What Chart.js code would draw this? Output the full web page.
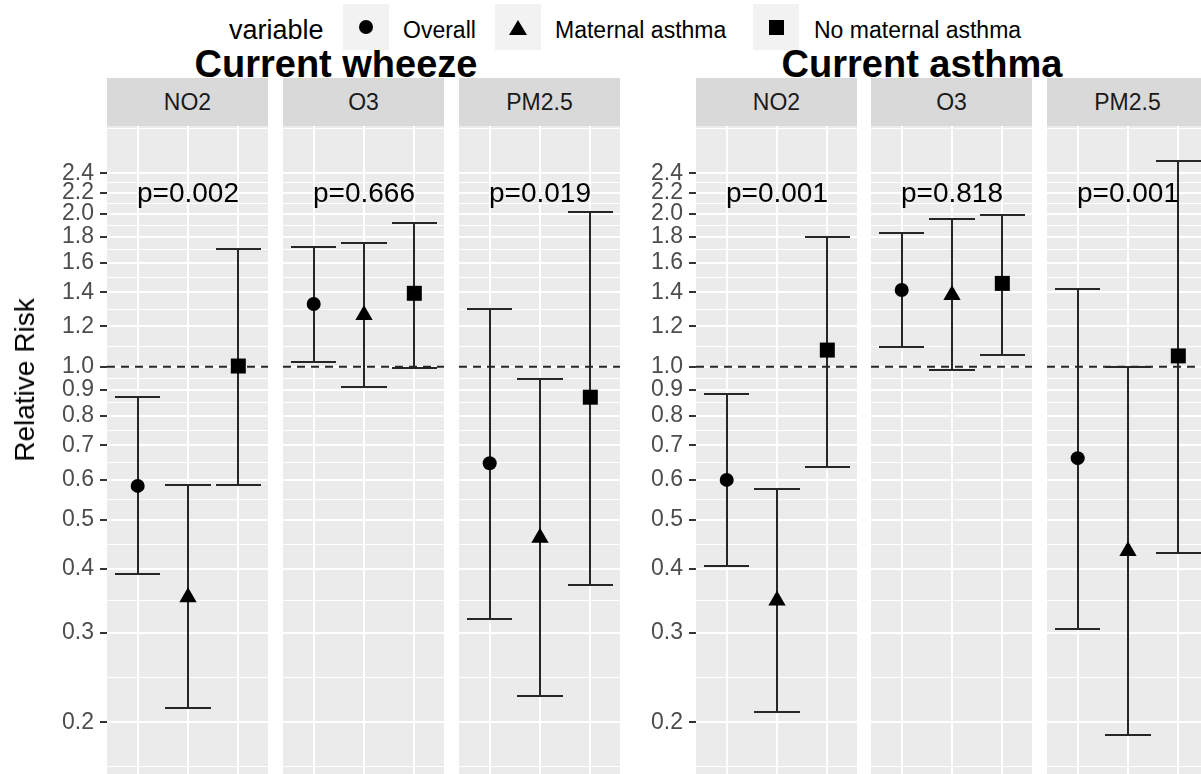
<!DOCTYPE html>
<html>
<head>
<meta charset="utf-8">
<title>Relative Risk by pollutant</title>
<script src="https://cdn.jsdelivr.net/npm/chart.js@4.4.1/dist/chart.umd.min.js"></script>
<style>
  html, body { margin: 0; padding: 0; background: #fff; }
  body { position: relative; width: 1201px; height: 774px; overflow: hidden; font-family: "Liberation Sans", Arial, sans-serif; }
  .abs { position: absolute; white-space: nowrap; line-height: 1; }
  .plot-title { font-size: 38px; font-weight: bold; color: #000; width: 600px; text-align: center; }
  .strip { position: absolute; background: #D9D9D9; color: #1A1A1A; font-size: 23px; text-align: center; height: 48px; line-height: 48px; }
  .key { position: absolute; top: 4px; width: 46px; height: 46px; background: #F2F2F2; display: flex; align-items: center; justify-content: center; }
  .sym-circle { width: 14px; height: 14px; border-radius: 50%; background: #000; }
  .sym-triangle { width: 0; height: 0; border-left: 9px solid transparent; border-right: 9px solid transparent; border-bottom: 15px solid #000; }
  .sym-rect { width: 15px; height: 15px; background: #000; }
  canvas { position: absolute; }
</style>
</head>
<body>
<script>
// categories
const OUTCOMES = ['Current wheeze', 'Current asthma'];
const POLLUTANTS = ['NO2', 'O3', 'PM2.5'];
const GROUPS = ['Overall', 'Maternal asthma', 'No maternal asthma'];
const GROUP_X = [1, 2, 3];
const GROUP_SHAPES = ['circle', 'triangle', 'rect'];

// y axis (log scale)
const Y_TICKS = [0.2, 0.3, 0.4, 0.5, 0.6, 0.7, 0.8, 0.9, 1.0, 1.2, 1.4, 1.6, 1.8, 2.0, 2.2, 2.4];
const REF_RR = 1;

// Current wheeze - rows NO2 / O3 / PM2.5, columns = groups
const WHEEZE_RR = [[0.583, 0.352, 1.003], [1.328, 1.264, 1.394], [0.646, 0.461, 0.871]];
const WHEEZE_LO = [[0.391, 0.213, 0.586], [1.02, 0.913, 0.993], [0.319, 0.225, 0.373]];
const WHEEZE_HI = [[0.873, 0.586, 1.70], [1.72, 1.75, 1.92], [1.30, 0.947, 2.01]];
const WHEEZE_P = ['p=0.002', 'p=0.666', 'p=0.019'];

// Current asthma
const ASTHMA_RR = [[0.599, 0.347, 1.078], [1.415, 1.384, 1.458], [0.661, 0.434, 1.05]];
const ASTHMA_LO = [[0.405, 0.209, 0.636], [1.095, 0.985, 1.056], [0.305, 0.189, 0.431]];
const ASTHMA_HI = [[0.882, 0.575, 1.80], [1.83, 1.95, 1.99], [1.42, 1.0, 2.54]];
const ASTHMA_P = ['p=0.001', 'p=0.818', 'p=0.001'];

const P_LABEL_X = 2;
const P_LABEL_Y = 2.18;

// layout
const X_MIN = 0.39, X_MAX = 3.59;
const Y_MIN = 0.1582, Y_MAX = 2.973;
const PANEL_TOP = 126, PANEL_BOTTOM = 774, PANEL_W = 161, AXIS_W = 70;
const STRIP_TOP = 78;
const FACET_LEFTS = [[107, 283, 459], [696, 871, 1047]];
const TITLE_CX = [336, 922];
const POINT_R = [7, 10, 10.6];
const CAP_HALF = 0.45;
const FONT = '"Liberation Sans", Arial, sans-serif';

// minor grid lines halfway (in log space) between the breaks, one extra at each end
function minorBreaks(br) {
  const out = [];
  const step = Math.log10(br[1]) - Math.log10(br[0]);
  const ext = [Math.pow(10, Math.log10(br[0]) - step), ...br, Math.pow(10, Math.log10(br[br.length - 1]) + step)];
  for (let i = 0; i < ext.length - 1; i++) out.push(Math.sqrt(ext[i] * ext[i + 1]));
  return out;
}
const GRID_VALUES = [...Y_TICKS, ...minorBreaks(Y_TICKS)].filter(v => v > Y_MIN && v < Y_MAX).sort((a, b) => a - b);

const panelPlugin = {
  id: 'panel',
  beforeDraw(chart) {
    const { ctx, chartArea: a } = chart;
    ctx.save();
    ctx.fillStyle = '#EBEBEB';
    ctx.fillRect(a.left, a.top, a.right - a.left, a.bottom - a.top);
    ctx.restore();
  },
  beforeDatasetsDraw(chart, args, opts) {
    const { ctx, scales: { x, y } } = chart;
    ctx.save();
    ctx.strokeStyle = '#262626';
    ctx.lineWidth = 2;
    GROUP_X.forEach((gx, i) => {
      // snap to whole pixels so the 2px lines stay sharp
      const xc = Math.round(x.getPixelForValue(gx));
      const xl = Math.round(x.getPixelForValue(gx - CAP_HALF));
      const xr = Math.round(x.getPixelForValue(gx + CAP_HALF));
      const yl = Math.round(y.getPixelForValue(opts.lo[i]));
      const yh = Math.round(y.getPixelForValue(opts.hi[i]));
      ctx.beginPath();
      ctx.moveTo(xc, yl); ctx.lineTo(xc, yh);
      ctx.moveTo(xl, yl); ctx.lineTo(xr, yl);
      ctx.moveTo(xl, yh); ctx.lineTo(xr, yh);
      ctx.stroke();
    });
    ctx.restore();
  },
  afterDatasetsDraw(chart, args, opts) {
    const { ctx, scales: { x, y } } = chart;
    ctx.save();
    ctx.fillStyle = '#000';
    ctx.font = '28px ' + FONT;
    ctx.textAlign = 'center';
    ctx.textBaseline = 'middle';
    ctx.fillText(opts.label, x.getPixelForValue(P_LABEL_X), y.getPixelForValue(P_LABEL_Y));
    ctx.restore();
  }
};

function addText(cls, text, style) {
  const d = document.createElement('div');
  d.className = cls;
  d.textContent = text;
  Object.assign(d.style, style);
  document.body.appendChild(d);
  return d;
}

function makePanel(f, k, rr, lo, hi, pText) {
  const hasAxis = k === 0;
  const left = FACET_LEFTS[f][k];
  const canvas = document.createElement('canvas');
  const w = PANEL_W + (hasAxis ? AXIS_W : 0);
  canvas.width = w;
  canvas.height = PANEL_BOTTOM - PANEL_TOP;
  canvas.style.left = (left - (hasAxis ? AXIS_W : 0)) + 'px';
  canvas.style.top = PANEL_TOP + 'px';
  document.body.appendChild(canvas);

  addText('strip', POLLUTANTS[k], { left: left + 'px', top: STRIP_TOP + 'px', width: PANEL_W + 'px' });

  return new Chart(canvas, {
    type: 'scatter',
    data: {
      datasets: [
        ...GROUPS.map((g, i) => ({
          label: g,
          data: [{ x: GROUP_X[i], y: rr[i] }],
          pointStyle: GROUP_SHAPES[i],
          pointRadius: POINT_R[i],
          pointHoverRadius: POINT_R[i],
          backgroundColor: '#000',
          borderColor: '#000',
          borderWidth: 0
        })),
        {
          type: 'line',
          label: 'reference',
          data: [{ x: X_MIN, y: REF_RR }, { x: X_MAX, y: REF_RR }],
          showLine: true,
          borderColor: '#262626',
          borderWidth: 2,
          borderDash: [8, 6],
          pointRadius: 0,
          fill: false
        }
      ]
    },
    options: {
      responsive: false,
      animation: false,
      events: [],
      layout: { padding: 0, autoPadding: false },
      plugins: {
        legend: { display: false },
        tooltip: { enabled: false },
        panel: { lo, hi, label: pText }
      },
      scales: {
        x: {
          type: 'linear', min: X_MIN, max: X_MAX,
          ticks: { display: false },
          border: { display: false },
          grid: { color: '#fff', lineWidth: 2, drawTicks: false },
          afterBuildTicks: s => { s.ticks = GROUP_X.map(v => ({ value: v })); },
          afterFit: s => { s.height = 0; s.paddingLeft = 0; s.paddingRight = 0; }
        },
        y: {
          type: 'logarithmic', min: Y_MIN, max: Y_MAX,
          border: { display: false },
          ticks: {
            display: hasAxis, autoSkip: false, padding: 6, color: '#4D4D4D',
            font: { family: FONT, size: 23 },
            callback: v => Y_TICKS.includes(v) ? v.toFixed(1) : ''
          },
          grid: {
            color: '#fff',
            lineWidth: c => (c.tick && Y_TICKS.includes(c.tick.value)) ? 2 : 1,
            drawTicks: hasAxis, tickLength: 7, tickWidth: 2,
            tickColor: c => (c.tick && Y_TICKS.includes(c.tick.value)) ? '#333' : 'rgba(0,0,0,0)'
          },
          afterBuildTicks: s => { s.ticks = GRID_VALUES.map(v => ({ value: v })); },
          afterFit: s => { s.width = hasAxis ? AXIS_W : 0; s.paddingTop = 0; s.paddingBottom = 0; }
        }
      }
    },
    plugins: [panelPlugin]
  });
}

const SERIES = [
  { rr: WHEEZE_RR, lo: WHEEZE_LO, hi: WHEEZE_HI, p: WHEEZE_P },
  { rr: ASTHMA_RR, lo: ASTHMA_LO, hi: ASTHMA_HI, p: ASTHMA_P }
];

SERIES.forEach((s, f) => {
  POLLUTANTS.forEach((_, k) => makePanel(f, k, s.rr[k], s.lo[k], s.hi[k], s.p[k]));
  addText('abs plot-title', OUTCOMES[f], { left: (TITLE_CX[f] - 300) + 'px', top: '45px' });
});

// y axis title
addText('abs', 'Relative Risk', {
  left: '25px', top: '380px', fontSize: '28px', color: '#000',
  transform: 'translate(-50%, -50%) rotate(-90deg)'
});

// legend
const KEY_LEFT = [343, 495, 753];
const LABEL_LEFT = [403, 555, 814];
addText('abs', 'variable', { left: '229px', top: '17px', fontSize: '27px', color: '#000' });
GROUPS.forEach((g, i) => {
  const key = document.createElement('div');
  key.className = 'key';
  key.style.left = KEY_LEFT[i] + 'px';
  const sym = document.createElement('div');
  sym.className = 'sym-' + GROUP_SHAPES[i];
  key.appendChild(sym);
  document.body.appendChild(key);
  addText('abs', g, { left: LABEL_LEFT[i] + 'px', top: '19px', fontSize: '23px', color: '#000' });
});
</script>
</body>
</html>
